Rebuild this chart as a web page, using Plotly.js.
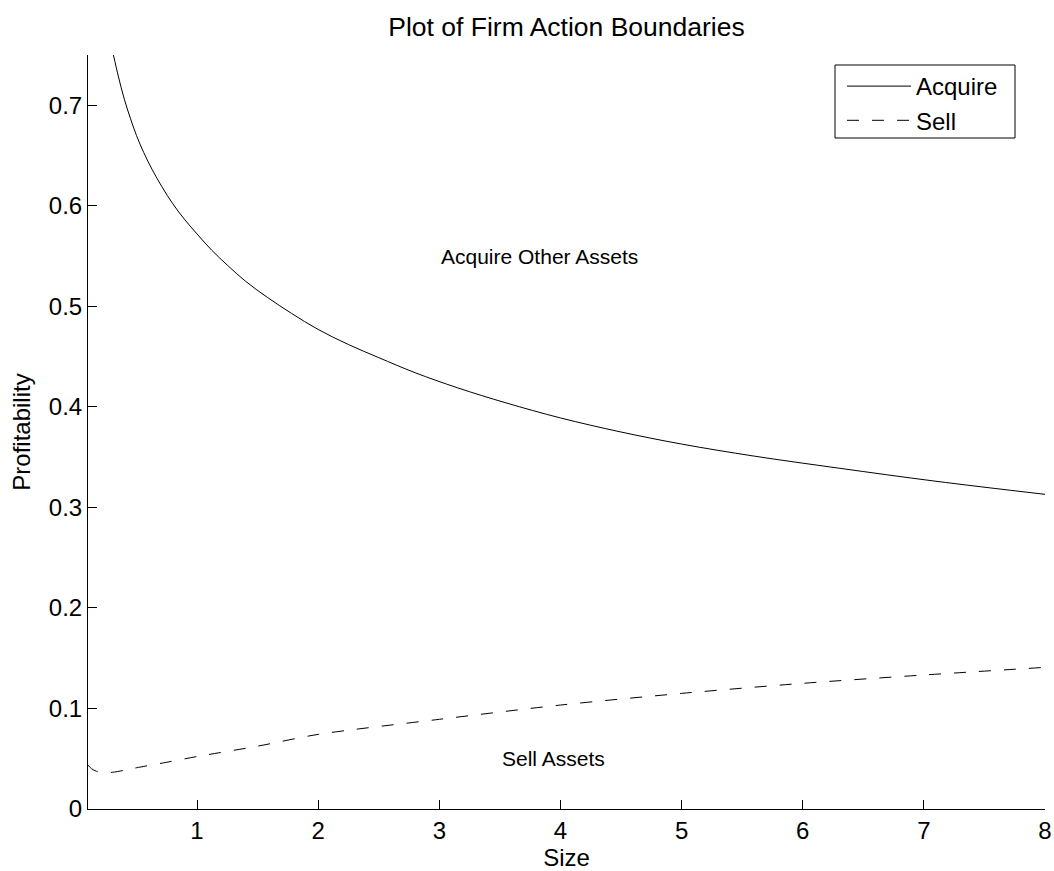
<!DOCTYPE html>
<html>
<head>
<meta charset="utf-8">
<script src="https://cdn.plot.ly/plotly-3.0.1.min.js"></script>
<style>
  html, body { margin: 0; padding: 0; background: #ffffff; }
  #chart { width: 1054px; height: 871px; }
</style>
</head>
<body>
<div id="chart"></div>
<script>
// ---- data ----
const acquireX = [0.31, 0.35, 0.40, 0.45, 0.50, 0.56, 0.63, 0.71, 0.80, 0.90, 1.00, 1.12, 1.25, 1.40, 1.58, 1.78, 2.00, 2.25, 2.50, 2.80, 3.15, 3.55, 4.00, 4.50, 5.00, 5.60, 6.30, 7.10, 8.00];
const acquireY = [0.750, 0.729, 0.706, 0.687, 0.670, 0.653, 0.636, 0.619, 0.602, 0.586, 0.572, 0.556, 0.541, 0.525, 0.509, 0.493, 0.477, 0.462, 0.449, 0.434, 0.419, 0.404, 0.389, 0.375, 0.363, 0.351, 0.339, 0.326, 0.313];

const sellX = [0.10, 0.13, 0.17, 0.22, 0.30, 0.40, 0.50, 0.75, 1.00, 1.50, 2.00, 3.00, 4.00, 5.00, 6.00, 7.00, 8.00];
const sellY = [0.0437, 0.0400, 0.0375, 0.0365, 0.0365, 0.0385, 0.0410, 0.0465, 0.0522, 0.0625, 0.0742, 0.0892, 0.1034, 0.1150, 0.1250, 0.1333, 0.1409];

const seriesNames = ["Acquire", "Sell"];
const xTicks = [1, 2, 3, 4, 5, 6, 7, 8];
const yTicks = [0, 0.1, 0.2, 0.3, 0.4, 0.5, 0.6, 0.7];
const yTickLabels = ["0", "0.1", "0.2", "0.3", "0.4", "0.5", "0.6", "0.7"];

const regionLabels = ["Acquire Other Assets", "Sell Assets"];
const regionLabelX = [3.0, 3.5];
const regionLabelY = [0.55, 0.05];

const titleText = "Plot of Firm Action Boundaries";
const xTitle = "Size";
const yTitle = "Profitability";

// ---- chart ----
const FONT = "Liberation Sans, Arial, Helvetica, sans-serif";

const traces = [
  {
    x: acquireX, y: acquireY, name: seriesNames[0], type: "scatter", mode: "lines",
    line: { color: "#000000", width: 1, shape: "spline", smoothing: 1 },
    cliponaxis: true
  },
  {
    x: sellX, y: sellY, name: seriesNames[1], type: "scatter", mode: "lines",
    line: { color: "#000000", width: 1, dash: "12px,13px", shape: "spline", smoothing: 0.8 },
    cliponaxis: true
  }
];

const annotations = regionLabels.map((t, i) => ({
  x: regionLabelX[i], y: regionLabelY[i], xref: "x", yref: "y",
  text: t, showarrow: false, xanchor: "left", yanchor: "middle",
  font: { family: FONT, size: 21, color: "#000000" }
}));

// legend frame (pixel box of the reference legend, converted to paper coords)
const PL = 88, PR = 1045, PT = 55, PB = 809;
const px2paperX = p => (p - PL) / (PR - PL);
const px2paperY = p => (PB - p) / (PB - PT);

const layout = {
  width: 1054, height: 871,
  paper_bgcolor: "#ffffff", plot_bgcolor: "#ffffff",
  margin: { l: 88, r: 9, t: 55, b: 62, pad: 0 },
  font: { family: FONT, size: 24, color: "#000000" },
  title: {
    text: titleText, x: 0.5, xref: "paper", xanchor: "center",
    y: 0.969, yref: "container", yanchor: "middle",
    font: { family: FONT, size: 26.5, color: "#000000" }
  },
  xaxis: {
    range: [0.1, 8], tickvals: xTicks, ticktext: xTicks.map(String),
    ticks: "inside", ticklen: 9, tickwidth: 1, tickcolor: "#000000",
    showline: true, linecolor: "#000000", linewidth: 1, mirror: false,
    showgrid: false, zeroline: false, automargin: false,
    tickfont: { family: FONT, size: 24, color: "#000000" },
    title: { text: xTitle, standoff: 2, font: { family: FONT, size: 24, color: "#000000" } }
  },
  yaxis: {
    range: [0, 0.75], tickvals: yTicks, ticktext: yTickLabels,
    ticks: "inside", ticklen: 9, tickwidth: 1, tickcolor: "#000000",
    showline: true, linecolor: "#000000", linewidth: 1, mirror: false,
    showgrid: false, zeroline: false, automargin: false,
    tickfont: { family: FONT, size: 24, color: "#000000" },
    title: { text: yTitle, standoff: 11, font: { family: FONT, size: 24, color: "#000000" } }
  },
  showlegend: true,
  legend: {
    x: px2paperX(842), xanchor: "left", y: px2paperY(64), yanchor: "top",
    bgcolor: "rgba(0,0,0,0)", borderwidth: 0,
    font: { family: FONT, size: 24, color: "#000000" },
    itemwidth: 64, tracegroupgap: 0
  },
  shapes: [{
    type: "rect", xref: "paper", yref: "paper", layer: "above",
    x0: px2paperX(835), x1: px2paperX(1015), y0: px2paperY(138), y1: px2paperY(65),
    line: { color: "#000000", width: 1 }, fillcolor: "#ffffff"
  }],
  annotations: annotations
};

Plotly.newPlot("chart", traces, layout, { displayModeBar: false, staticPlot: true });
</script>
</body>
</html>
